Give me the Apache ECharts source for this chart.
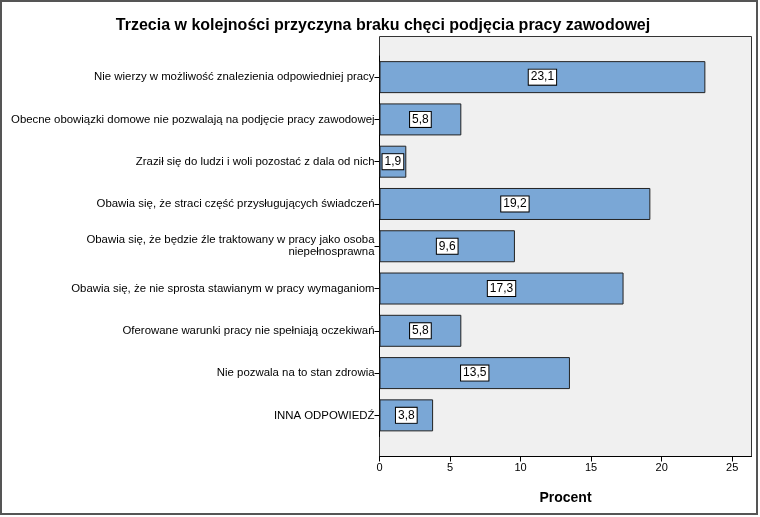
<!DOCTYPE html>
<html><head><meta charset="utf-8">
<script src="https://cdn.jsdelivr.net/npm/echarts@6/dist/echarts.min.js"></script>
<style>html,body{margin:0;padding:0;background:#fff}#c{width:760px;height:517px}</style>
</head><body><div id="c"></div>
<script>
var categories = [
  'Nie wierzy w możliwość znalezienia odpowiedniej pracy',
  'Obecne obowiązki domowe nie pozwalają na podjęcie pracy zawodowej',
  'Zraził się do ludzi i woli pozostać z dala od nich',
  'Obawia się, że straci część przysługujących świadczeń',
  'Obawia się, że będzie źle traktowany w pracy jako osoba\nniepełnosprawna',
  'Obawia się, że nie sprosta stawianym w pracy wymaganiom',
  'Oferowane warunki pracy nie spełniają oczekiwań',
  'Nie pozwala na to stan zdrowia',
  'INNA ODPOWIEDŹ'
];
var values = [23.1, 5.8, 1.9, 19.2, 9.6, 17.3, 5.8, 13.5, 3.8];
var xTicks = [0, 5, 10, 15, 20, 25];

var chart = echarts.init(document.getElementById('c'));
var font = 'Liberation Sans, Arial, sans-serif';
chart.setOption({
  animation: false,
  graphic: [
    {type: 'rect', shape: {x: 1, y: 1, width: 756, height: 513}, style: {fill: 'none', stroke: '#555', lineWidth: 2}, z: -10},
    {type: 'rect', shape: {x: 379.5, y: 36.5, width: 372, height: 420}, style: {fill: '#f0f0f0', stroke: '#333', lineWidth: 1}, z: -5}
  ],
  title: {
    text: 'Trzecia w kolejności przyczyna braku chęci podjęcia pracy zawodowej',
    left: 378, top: 13, textAlign: 'center',
    textStyle: {fontFamily: font, fontSize: 16, fontWeight: 'bold', color: '#000'}
  },
  grid: {left: 379.5, right: 760 - 751.5, top: 56, bottom: 517 - 436.5, containLabel: false},
  xAxis: {
    type: 'value', min: 0, max: 26.37, interval: 5,
    offset: 20,
    name: 'Procent', nameLocation: 'middle', nameGap: 35,
    nameTextStyle: {fontFamily: font, fontSize: 14, fontWeight: 'bold', color: '#000'},
    axisLine: {show: true, lineStyle: {color: '#000'}},
    axisTick: {show: true, length: 5, lineStyle: {color: '#000'}},
    axisLabel: {fontFamily: font, fontSize: 11, color: '#000', margin: 6, showMaxLabel: false,
      formatter: function (v) { return xTicks.indexOf(v) >= 0 ? String(v) : ''; }},
    splitLine: {show: false}
  },
  yAxis: {
    type: 'category', data: categories, inverse: true,
    axisLine: {show: true, lineStyle: {color: '#000'}},
    axisTick: {show: true, length: 5, alignWithLabel: true, lineStyle: {color: '#000'}},
    axisLabel: {fontFamily: font, fontSize: 11.4, color: '#000', margin: 5, lineHeight: 12, align: 'right'}
  },
  series: [{
    type: 'bar', data: values, barWidth: 32,
    itemStyle: {color: '#7aa7d6', borderColor: '#222', borderWidth: 1},
    label: {
      show: true, position: 'inside', color: '#000',
      fontFamily: font, fontSize: 12,
      backgroundColor: '#fff', borderColor: '#000', borderWidth: 1,
      padding: [2, 2, 1, 2],
      formatter: function (p) { return String(p.value).replace('.', ','); }
    }
  }]
});
</script></body></html>
